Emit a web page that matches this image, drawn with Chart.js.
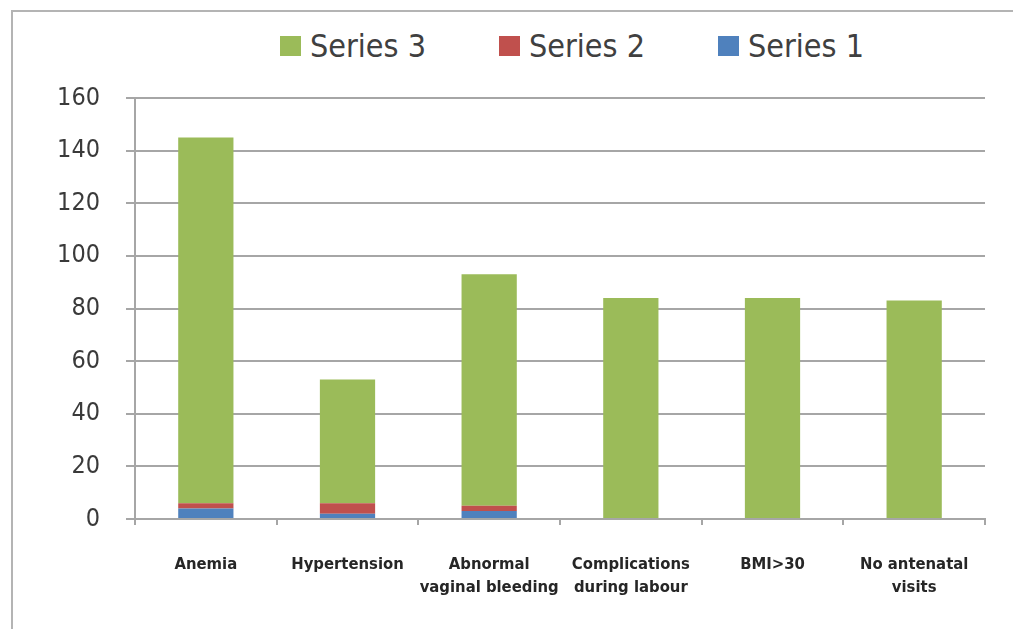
<!DOCTYPE html>
<html>
<head>
<meta charset="utf-8">
<script src="https://cdn.jsdelivr.net/npm/chart.js@4"></script>
<style>
    html, body { margin: 0; padding: 0; background: #fff; overflow: hidden; }
    #wrap { position: relative; width: 1013px; height: 629px; overflow: hidden; }
    #frame {
        position: absolute; left: 11px; top: 10px; width: 1200px; height: 700px;
        border: 2px solid #b4b4b4;
    }
    #legend {
        position: absolute; left: 280px; top: 27px;
        display: flex; gap: 73px; align-items: center;
        font-family: 'DejaVu Sans Condensed', sans-serif;
        font-size: 32px; color: #404040;
    }
    #legend .item { display: flex; align-items: center; }
    #legend .box { width: 21px; height: 20px; margin-right: 9px; }
    canvas { position: absolute; left: 0; top: 0; }
</style>
</head>
<body>
<div id="wrap">
    <div id="frame"></div>
    <div id="legend"></div>
    <canvas id="chart" width="1013" height="629"></canvas>
</div>
<script>
// values
const categories = [
    'Anemia',
    'Hypertension',
    ['Abnormal', 'vaginal bleeding'],
    ['Complications', 'during labour'],
    'BMI>30',
    ['No antenatal', 'visits']
];
const series1 = [4, 2, 3, 0, 0, 0];
const series2 = [2, 4, 2, 0, 0, 0];
const series3 = [139, 47, 88, 84, 84, 83];
const yTicks = [0, 20, 40, 60, 80, 100, 120, 140, 160];

const FONT = "'DejaVu Sans Condensed', sans-serif";

const ctx = document.getElementById('chart').getContext('2d');
const chart = new Chart(ctx, {
    type: 'bar',
    data: {
        labels: categories,
        datasets: [
            { label: 'Series 1', data: series1, backgroundColor: '#4f81bd' },
            { label: 'Series 2', data: series2, backgroundColor: '#c0504d' },
            { label: 'Series 3', data: series3, backgroundColor: '#9bbb59' }
        ]
    },
    options: {
        responsive: false,
        animation: false,
        layout: { padding: { top: 98, right: 28, bottom: 0, left: 0 } },
        datasets: {
            bar: { categoryPercentage: 0.78, barPercentage: 0.5 }
        },
        plugins: {
            legend: { display: false },
            tooltip: { enabled: false }
        },
        scales: {
            x: {
                stacked: true,
                afterFit: (scale) => { scale.height = 110; },
                grid: {
                    drawOnChartArea: false,
                    drawTicks: true,
                    tickLength: 6,
                    color: '#a6a6a6',
                    lineWidth: 2
                },
                border: { color: '#a6a6a6', width: 2 },
                ticks: {
                    padding: 29,
                    maxRotation: 0,
                    autoSkip: false,
                    color: '#262626',
                    font: { family: FONT, size: 16.5, weight: 'bold', lineHeight: 1.35 }
                }
            },
            y: {
                stacked: true,
                min: 0,
                max: 160,
                afterFit: (scale) => { scale.width = 135; },
                afterBuildTicks: (scale) => {
                    scale.ticks = yTicks.map(v => ({ value: v }));
                },
                grid: {
                    color: '#a6a6a6',
                    lineWidth: 2,
                    tickLength: 9
                },
                border: { color: '#a6a6a6', width: 2 },
                ticks: {
                    padding: 26,
                    color: '#3a3a3a',
                    font: { family: FONT, size: 25 }
                }
            }
        }
    }
});

// legend drawn as html, top-down order like the original (Series 3 first)
const legendEl = document.getElementById('legend');
chart.data.datasets.slice().reverse().forEach(ds => {
    const item = document.createElement('div');
    item.className = 'item';
    const box = document.createElement('span');
    box.className = 'box';
    box.style.background = ds.backgroundColor;
    const txt = document.createElement('span');
    txt.textContent = ds.label;
    item.appendChild(box);
    item.appendChild(txt);
    legendEl.appendChild(item);
});
</script>
</body>
</html>
